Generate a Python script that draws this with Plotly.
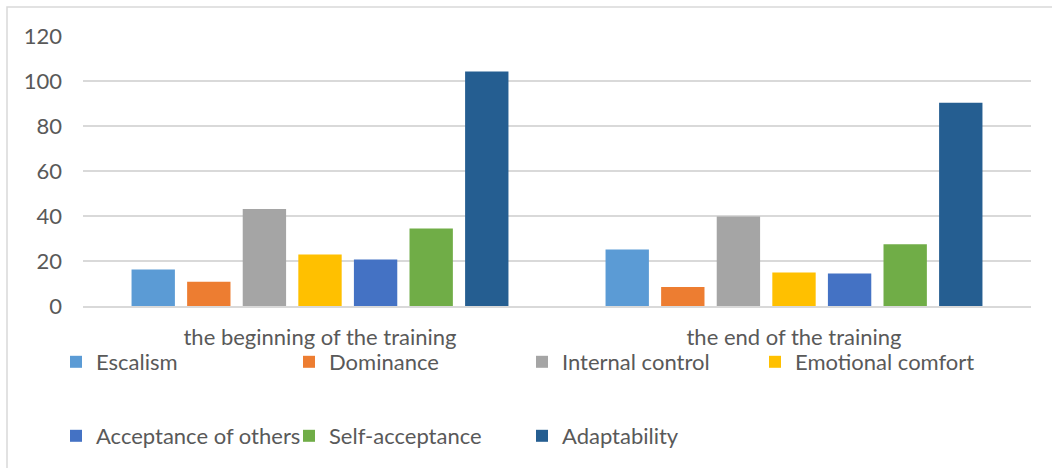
import plotly.graph_objects as go

categories = ["the beginning of the training", "the end of the training"]
series_names = ["Escalism", "Dominance", "Internal control", "Emotional comfort",
                "Acceptance of others", "Self-acceptance", "Adaptability"]
escalism = [16.2, 25.1]
dominance = [10.8, 8.4]
internal_control = [43.1, 39.8]
emotional_comfort = [22.9, 14.9]
acceptance_of_others = [20.7, 14.5]
self_acceptance = [34.4, 27.4]
adaptability = [104.2, 90.3]
y_ticks = [0, 20, 40, 60, 80, 100, 120]

values = [escalism, dominance, internal_control, emotional_comfort,
          acceptance_of_others, self_acceptance, adaptability]
colors = ["#5B9BD5", "#ED7D31", "#A5A5A5", "#FFC000", "#4472C4", "#70AD47", "#255E91"]

W, H = 1052, 468
L, R, T, B = 83, 21, 36, 161
pw, ph = W - L - R, H - T - B

FONT = "Lato"
FS = 22
TXT = "#595959"

fig = go.Figure()
for i, (name, vals, col) in enumerate(zip(series_names, values, colors)):
    fig.add_trace(go.Bar(
        x=categories, y=vals, name=name, marker_color=col,
        marker_line_width=0,
        legend="legend" if i < 4 else "legend2",
    ))

def px_x(p):
    return (p - L) / pw

def px_y(p):
    return (H - B - p) / ph

legend_common = dict(
    orientation="h", xanchor="left", yanchor="middle",
    font=dict(family=FONT, size=FS, color=TXT),
    entrywidth=188, entrywidthmode="pixels",
    bgcolor="rgba(0,0,0,0)", itemwidth=30, traceorder="normal",
)

fig.update_layout(
    width=W, height=H,
    margin=dict(l=L, r=R, t=T, b=B),
    paper_bgcolor="white", plot_bgcolor="white",
    barmode="group", bargap=0.179, bargroupgap=0.22,
    font=dict(family=FONT, size=FS, color=TXT),
    legend=dict(x=px_x(56), y=px_y(362), **legend_common),
    legend2=dict(x=px_x(56), y=px_y(436), **legend_common),
    xaxis=dict(showgrid=False, showline=True, linecolor="#D9D9D9", linewidth=1.5,
               ticks="", tickfont=dict(family=FONT, size=FS, color=TXT),
               ticklabelstandoff=11),
    yaxis=dict(range=[0, 120], tickvals=y_ticks, showgrid=True, gridcolor="#D9D9D9",
               gridwidth=1.5, zeroline=False, showline=False, ticks="",
               tickfont=dict(family=FONT, size=FS, color=TXT), ticklabelstandoff=20),
    shapes=[dict(type="rect", xref="paper", yref="paper",
                 x0=px_x(7), x1=px_x(1060), y0=px_y(7), y1=px_y(480),
                 line=dict(color="#D9D9D9", width=1.5), fillcolor="rgba(0,0,0,0)",
                 layer="below")],
)

fig.write_html("out.html")
